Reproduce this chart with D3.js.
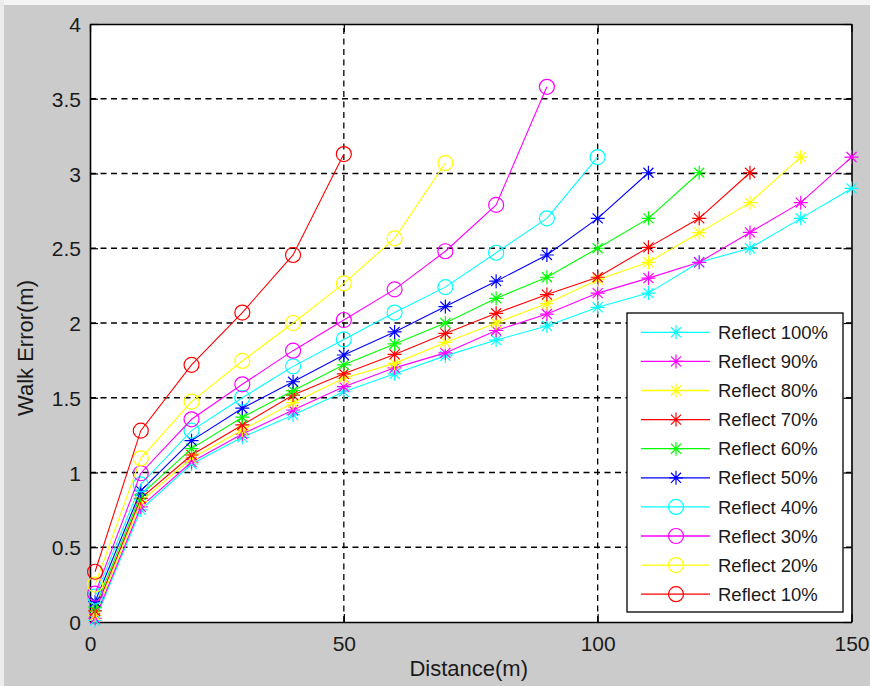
<!DOCTYPE html>
<html>
<head>
<meta charset="utf-8">
<script src="https://cdn.jsdelivr.net/npm/d3@7"></script>
<style>
  html, body { margin: 0; padding: 0; background: #cbcbcb; }
  svg { display: block; }
  text { font-family: "Liberation Sans", Arial, sans-serif; fill: #1a1a1a; }
</style>
</head>
<body>
<svg id="chart" width="870" height="686"></svg>
<script>
// ---------- data ----------
const distances = [1, 10, 20, 30, 40, 50, 60, 70, 80, 90, 100, 110, 120, 130, 140, 150];
const seriesNames = ["Reflect 100%", "Reflect 90%", "Reflect 80%", "Reflect 70%", "Reflect 60%",
                     "Reflect 50%", "Reflect 40%", "Reflect 30%", "Reflect 20%", "Reflect 10%"];
const reflect100 = [0.01, 0.75, 1.057, 1.235, 1.385, 1.54, 1.66, 1.78, 1.886, 1.98, 2.105, 2.20, 2.406, 2.50, 2.70, 2.90];
const reflect90  = [0.025, 0.77, 1.07, 1.257, 1.418, 1.574, 1.70, 1.80, 1.95, 2.06, 2.20, 2.30, 2.406, 2.606, 2.805, 3.11];
const reflect80  = [0.045, 0.805, 1.095, 1.284, 1.467, 1.63, 1.73, 1.87, 2.0, 2.13, 2.29, 2.406, 2.604, 2.805, 3.11];
const reflect70  = [0.074, 0.827, 1.117, 1.318, 1.518, 1.66, 1.79, 1.93, 2.065, 2.19, 2.306, 2.506, 2.70, 3.005];
const reflect60  = [0.10, 0.85, 1.16, 1.37, 1.547, 1.72, 1.86, 2.0, 2.165, 2.306, 2.50, 2.70, 3.005];
const reflect50  = [0.136, 0.878, 1.213, 1.43, 1.607, 1.786, 1.94, 2.11, 2.28, 2.455, 2.70, 3.005];
const reflect40  = [0.17, 0.92, 1.28, 1.50, 1.71, 1.89, 2.07, 2.24, 2.47, 2.70, 3.11];
const reflect30  = [0.19, 0.995, 1.356, 1.59, 1.815, 2.02, 2.225, 2.48, 2.79, 3.58];
const reflect20  = [0.25, 1.095, 1.474, 1.746, 2.0, 2.265, 2.566, 3.07];
const reflect10  = [0.336, 1.28, 1.72, 2.07, 2.455, 3.13];
const seriesValues = [reflect100, reflect90, reflect80, reflect70, reflect60,
                      reflect50, reflect40, reflect30, reflect20, reflect10];
const seriesColors = ["#00ffff", "#ff00ff", "#ffff00", "#ff0000", "#00ff00",
                      "#0000ff", "#00ffff", "#ff00ff", "#ffff00", "#ff0000"];
const seriesMarkers = ["star", "star", "star", "star", "star", "star",
                       "circle", "circle", "circle", "circle"];
const xTicks = [0, 50, 100, 150];
const yTicks = [0, 0.5, 1, 1.5, 2, 2.5, 3, 3.5, 4];
const xLabel = "Distance(m)";
const yLabel = "Walk Error(m)";

// ---------- layout ----------
const svg = d3.select("#chart");
const L = 90, R = 851.5, T = 24, B = 622;
const x = d3.scaleLinear().domain([0, 150]).range([L, R]);
const y = d3.scaleLinear().domain([0, 4]).range([B, T]);

// background strips (screenshot edge)
svg.append("rect").attr("x", 0).attr("y", 0).attr("width", 870).attr("height", 686).attr("fill", "#cbcbcb");
svg.append("rect").attr("x", 0).attr("y", 0).attr("width", 870).attr("height", 5).attr("fill", "#f4f4f4");
svg.append("rect").attr("x", 0).attr("y", 0).attr("width", 4).attr("height", 686).attr("fill", "#ececec");

// plot area
svg.append("rect").attr("x", L).attr("y", T).attr("width", R - L).attr("height", B - T).attr("fill", "#ffffff");

// grid
const grid = svg.append("g").attr("stroke", "#000").attr("stroke-width", 1.3).attr("stroke-dasharray", "6,4.5");
grid.selectAll("line.gy").data(yTicks.filter(v => v > 0 && v < 4)).join("line")
  .attr("x1", L).attr("x2", R).attr("y1", d => y(d)).attr("y2", d => y(d));
grid.selectAll("line.gx").data(xTicks.filter(v => v > 0 && v < 150)).join("line")
  .attr("class", "gx")
  .attr("y1", B).attr("y2", T).attr("x1", d => x(d)).attr("x2", d => x(d));

// axes with inward ticks (all four sides)
const tickLen = 8;
const axB = svg.append("g").attr("transform", `translate(0,${B})`)
  .call(d3.axisBottom(x).tickValues(xTicks).tickSizeInner(-tickLen).tickSizeOuter(0).tickPadding(14).tickFormat(d3.format("d")));
const axT = svg.append("g").attr("transform", `translate(0,${T})`)
  .call(d3.axisTop(x).tickValues(xTicks).tickSizeInner(-tickLen).tickSizeOuter(0).tickFormat(""));
const axL = svg.append("g").attr("transform", `translate(${L},0)`)
  .call(d3.axisLeft(y).tickValues(yTicks).tickSizeInner(-tickLen).tickSizeOuter(0).tickPadding(9).tickFormat(d => d3.format("")(d)));
const axR = svg.append("g").attr("transform", `translate(${R},0)`)
  .call(d3.axisRight(y).tickValues(yTicks).tickSizeInner(-tickLen).tickSizeOuter(0).tickFormat(""));
[axB, axT, axL, axR].forEach(a => {
  a.select(".domain").attr("stroke", "#000").attr("stroke-width", 1.6);
  a.selectAll(".tick line").attr("stroke", "#000").attr("stroke-width", 1.2);
  a.selectAll(".tick text").attr("font-size", 21).attr("fill", "#1a1a1a")
   .attr("font-family", "'Liberation Sans', Arial, sans-serif");
});
axB.selectAll(".tick text").attr("dy", "0.71em");
axL.selectAll(".tick text").attr("dy", "0.36em");

// axis labels
svg.append("text").attr("x", (L + R) / 2 - 2).attr("y", 676).attr("text-anchor", "middle")
  .attr("font-size", 22).text(xLabel);
svg.append("text").attr("transform", `translate(33,${(T + B) / 2 + 25}) rotate(-90)`)
  .attr("text-anchor", "middle").attr("font-size", 22).text(yLabel);

// markers
function starPath(s) {
  const d = s * 0.72;
  return `M0,${-s}V${s}M${-s},0H${s}M${-d},${-d}L${d},${d}M${-d},${d}L${d},${-d}`;
}
function drawMarker(g, type, color, cx, cy) {
  if (type === "star") {
    g.append("path").attr("d", starPath(7)).attr("transform", `translate(${cx},${cy})`)
      .attr("fill", "none").attr("stroke", color).attr("stroke-width", 1.2);
  } else {
    g.append("circle").attr("cx", cx).attr("cy", cy).attr("r", 7.5)
      .attr("fill", "none").attr("stroke", color).attr("stroke-width", 1.2);
  }
}

const line = d3.line().x(d => x(d[0])).y(d => y(d[1]));
const plot = svg.append("g");
seriesValues.forEach((vals, i) => {
  const pts = vals.map((v, j) => [distances[j], v]);
  const g = plot.append("g");
  g.append("path").attr("d", line(pts)).attr("fill", "none")
    .attr("stroke", seriesColors[i]).attr("stroke-width", 1.1);
  pts.forEach(p => drawMarker(g, seriesMarkers[i], seriesColors[i], x(p[0]), y(p[1])));
});

// legend
const lg = svg.append("g");
const lgX = 627, lgY = 313, lgW = 216, lgH = 299;
lg.append("rect").attr("x", lgX).attr("y", lgY).attr("width", lgW).attr("height", lgH)
  .attr("fill", "#fff").attr("stroke", "#000").attr("stroke-width", 1.3);
seriesNames.forEach((name, i) => {
  const cy = 332.3 + i * 29.1;
  lg.append("line").attr("x1", 641).attr("x2", 710).attr("y1", cy).attr("y2", cy)
    .attr("stroke", seriesColors[i]).attr("stroke-width", 1.3);
  drawMarker(lg, seriesMarkers[i], seriesColors[i], 676, cy);
  lg.append("text").attr("x", 718).attr("y", cy).attr("dy", "0.36em")
    .attr("font-size", 18.5).text(name);
});
</script>
</body>
</html>
